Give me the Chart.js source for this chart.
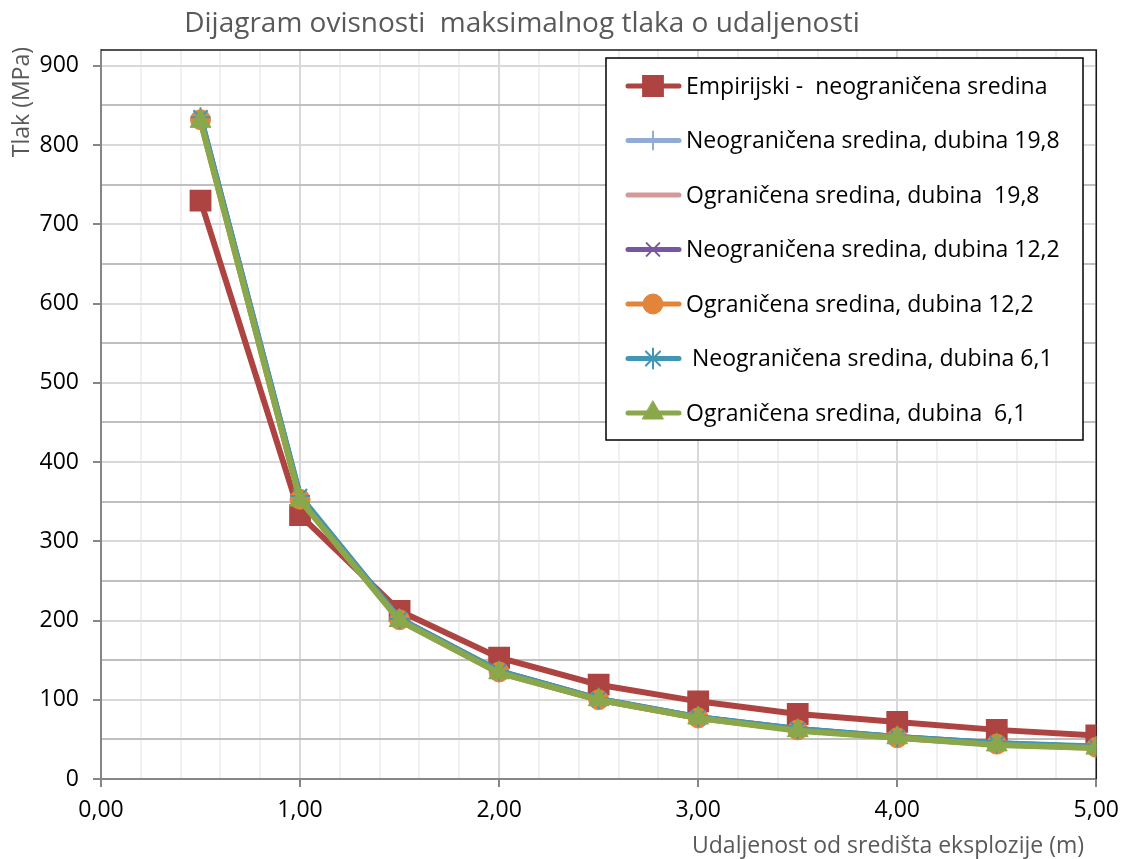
<!DOCTYPE html>
<html>
<head>
<meta charset="utf-8">
<script src="https://cdn.jsdelivr.net/npm/chart.js@4"></script>
<style>
    body { margin: 0; background: #ffffff; }
    canvas { display: block; }
</style>
</head>
<body>
<canvas id="pressureChart" width="1129" height="859"></canvas>
<script>
const udaljenost = [0.5, 1.0, 1.5, 2.0, 2.5, 3.0, 3.5, 4.0, 4.5, 5.0];

const empirijski = [730, 333, 212, 153, 119, 98, 82, 72, 62, 55];
const neogranicena198 = [834, 355, 201, 135, 100, 78, 62, 53, 44, 40];
const ogranicena198 = [831, 353, 200, 134, 100, 77, 62, 52, 44, 39];
const neogranicena122 = [835, 356, 202, 136, 101, 78, 63, 53, 45, 40];
const ogranicena122 = [832, 353, 201, 135, 100, 77, 62, 52, 44, 40];
const neogranicena61 = [835, 357, 202, 136, 101, 78, 63, 53, 45, 41];
const ogranicena61 = [830, 352, 200, 134, 100, 77, 61, 52, 43, 39];

const yTicks = [0, 100, 200, 300, 400, 500, 600, 700, 800, 900];
const xTicks = [0, 1, 2, 3, 4, 5];

const FONT = "'Open Sans', sans-serif";

const series = [
    { label: "Empirijski -  neograničena sredina", data: empirijski, color: "#ad4441", style: "rect", radius: 14, width: 2 },
    { label: "Neograničena sredina, dubina 19,8", data: neogranicena198, color: "#92abd4", style: "cross", radius: 9, width: 2 },
    { label: "Ograničena sredina, dubina  19,8", data: ogranicena198, color: "#d6999a", style: false, radius: 0, width: 0 },
    { label: "Neograničena sredina, dubina 12,2", data: neogranicena122, color: "#7758a0", style: "crossRot", radius: 9, width: 2 },
    { label: "Ograničena sredina, dubina 12,2", data: ogranicena122, color: "#e2843a", style: "circle", radius: 10, width: 1 },
    { label: " Neograničena sredina, dubina 6,1", data: neogranicena61, color: "#4197b3", style: "star", radius: 10, width: 2 },
    { label: "Ograničena sredina, dubina  6,1", data: ogranicena61, color: "#8aa84b", style: "triangle", radius: 12, width: 1 },
];

const datasets = series.map((s, i) => ({
    label: s.label,
    data: udaljenost.map((x, j) => ({ x: x, y: s.data[j] })),
    borderColor: s.color,
    backgroundColor: s.color,
    borderWidth: 6,
    tension: 0,
    pointStyle: s.style,
    pointRadius: s.radius,
    pointHoverRadius: s.radius,
    pointBackgroundColor: s.color,
    pointBorderColor: s.color,
    pointBorderWidth: s.width,
    order: series.length - 1 - i,
}));

const decorations = {
    id: "decorations",
    beforeDatasetsDraw(chart) {
        const { ctx, chartArea } = chart;
        ctx.save();
        ctx.strokeStyle = "#1a1a1a";
        ctx.lineWidth = 1.5;
        ctx.beginPath();
        ctx.moveTo(chartArea.left, chartArea.top);
        ctx.lineTo(chartArea.right, chartArea.top);
        ctx.lineTo(chartArea.right, chartArea.bottom);
        ctx.stroke();
        ctx.restore();
    },
    afterDraw(chart) {
        const { ctx } = chart;
        ctx.save();

        // titles
        ctx.fillStyle = "#595959";
        ctx.textBaseline = "middle";
        ctx.font = `28px ${FONT}`;
        ctx.textAlign = "center";
        ctx.fillText("Dijagram ovisnosti  maksimalnog tlaka o udaljenosti", 522, 24);

        ctx.font = `23px ${FONT}`;
        ctx.textAlign = "right";
        ctx.fillText("Udaljenost od središta eksplozije (m)", 1084, 846);

        ctx.save();
        ctx.translate(22, 47);
        ctx.rotate(-Math.PI / 2);
        ctx.textAlign = "right";
        ctx.fillText("Tlak (MPa)", 0, 0);
        ctx.restore();

        // legend box
        const box = { x: 606, y: 58, w: 477, h: 382 };
        ctx.fillStyle = "#ffffff";
        ctx.fillRect(box.x, box.y, box.w, box.h);
        ctx.strokeStyle = "#000000";
        ctx.lineWidth = 1.5;
        ctx.strokeRect(box.x, box.y, box.w, box.h);

        ctx.font = `23px ${FONT}`;
        ctx.textAlign = "left";
        chart.data.datasets.forEach((ds, i) => {
            const y = 86 + i * 54.5;
            ctx.strokeStyle = ds.borderColor;
            ctx.lineWidth = 5;
            ctx.lineCap = "round";
            ctx.beginPath();
            ctx.moveTo(628, y);
            ctx.lineTo(679, y);
            ctx.stroke();
            if (ds.pointStyle) {
                ctx.fillStyle = ds.pointBackgroundColor;
                ctx.strokeStyle = ds.pointBorderColor;
                ctx.lineWidth = ds.pointBorderWidth;
                Chart.helpers.drawPoint(ctx, {
                    pointStyle: ds.pointStyle,
                    radius: ds.pointRadius,
                    rotation: 0,
                    borderWidth: ds.pointBorderWidth,
                }, 653, y);
            }
            ctx.fillStyle = "#000000";
            ctx.fillText(ds.label, 686, y + 1);
        });
        ctx.restore();
    },
};

new Chart(document.querySelector("#pressureChart"), {
    type: "line",
    data: { datasets: datasets },
    options: {
        responsive: false,
        animation: false,
        layout: {
            padding: { top: 50, right: 32, bottom: 0, left: 0 },
        },
        scales: {
            x: {
                type: "linear",
                min: 0,
                max: 5,
                afterBuildTicks: (scale) => {
                    const ticks = [];
                    for (let i = 0; i <= 25; i++) ticks.push({ value: i / 5 });
                    scale.ticks = ticks;
                },
                afterFit: (scale) => { scale.height = 80; },
                grid: {
                    color: (c) => (Math.abs(c.tick.value - Math.round(c.tick.value)) < 1e-6 ? "#d9d9d9" : "#f0f0f0"),
                    lineWidth: 2,
                    tickLength: 8,
                    tickColor: (c) => (Math.abs(c.tick.value - Math.round(c.tick.value)) < 1e-6 ? "#868686" : "rgba(0,0,0,0)"),
                    tickWidth: 2,
                },
                border: { display: true, color: "#868686", width: 2 },
                ticks: {
                    autoSkip: false,
                    maxRotation: 0,
                    padding: 10,
                    color: "#000000",
                    font: { family: FONT, size: 23 },
                    callback: (value) => (xTicks.some((t) => Math.abs(t - value) < 1e-6) ? value.toFixed(2).replace(".", ",") : ""),
                },
            },
            y: {
                min: 0,
                max: 920,
                afterBuildTicks: (scale) => {
                    const ticks = [];
                    for (let v = 0; v <= 900; v += 50) ticks.push({ value: v });
                    scale.ticks = ticks;
                },
                afterFit: (scale) => { scale.width = 101; },
                grid: {
                    color: (c) => (c.tick.value % 100 === 0 ? "#d9d9d9" : "#bfbfbf"),
                    lineWidth: 2,
                    tickLength: 8,
                    tickColor: (c) => (c.tick.value % 100 === 0 ? "#868686" : "rgba(0,0,0,0)"),
                    tickWidth: 2,
                },
                border: { display: true, color: "#868686", width: 2 },
                ticks: {
                    autoSkip: false,
                    padding: 14,
                    color: "#000000",
                    font: { family: FONT, size: 23 },
                    callback: (value) => (yTicks.includes(value) ? String(value) : ""),
                },
            },
        },
        plugins: {
            legend: { display: false },
            title: { display: false },
            tooltip: { enabled: false },
        },
    },
    plugins: [decorations],
});
</script>
</body>
</html>
